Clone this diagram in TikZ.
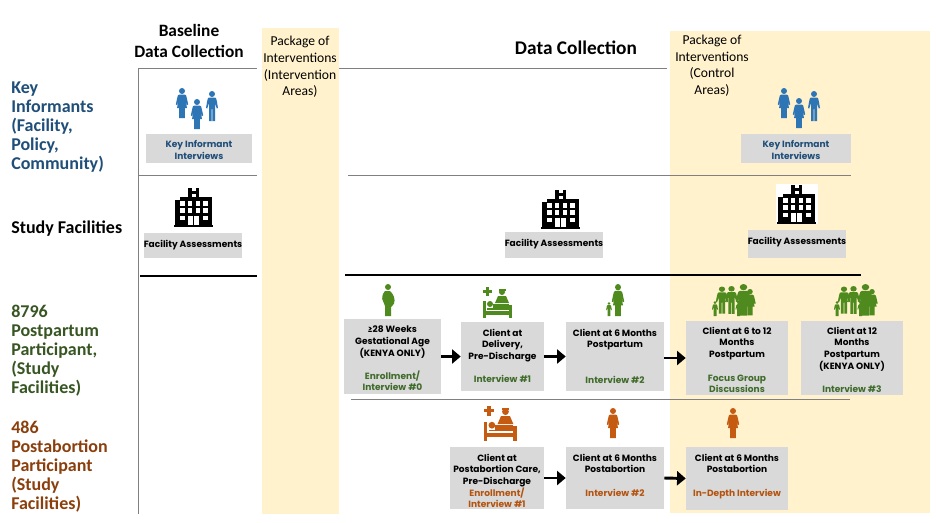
\documentclass[tikz,border=0pt]{standalone}
\usepackage{fontspec}
\usetikzlibrary{arrows.meta}
\setmainfont{Carlito}
\newfontfamily\boxfont{Poppins}
\definecolor{pkg}{HTML}{FFF2CC}
\definecolor{boxgray}{HTML}{D9D9D9}
\definecolor{kiblue}{HTML}{2E75B6}
\definecolor{kitext}{HTML}{1F4E79}
\definecolor{lblgreen}{HTML}{375623}
\definecolor{icgreen}{HTML}{4E8A1E}
\definecolor{txgreen}{HTML}{3F6B2A}
\definecolor{icorange}{HTML}{C55A11}
\definecolor{txorange}{HTML}{B4530F}
\definecolor{lblorange}{HTML}{8A3F0C}
\tikzset{
  x=0.75pt,y=-0.75pt,
  band/.style={fill=pkg,draw=none},
  cardbox/.style={fill=boxgray,draw=none,inner sep=0pt},
  cardtext/.style={anchor=north,inner sep=0pt,align=center,text=black,
    font=\boxfont\fontsize{6.8}{8.8}\selectfont\bfseries},
  rowlabel/.style={anchor=north west,align=left,inner sep=0pt,
    font=\fontsize{13.5}{14.25}\selectfont\bfseries},
  head/.style={align=center,inner sep=0pt,font=\fontsize{13}{15.6}\selectfont\bfseries},
  pkgtext/.style={align=center,inner sep=0pt,font=\fontsize{10.2}{12.4}\selectfont},
  thin rule/.style={draw=black!50,line width=0.6pt},
  thick rule/.style={draw=black,line width=2.2pt},
  flow/.style={draw=black,line width=2.2pt,-{Triangle[length=6.5pt,width=10.5pt]}},
  woman/.pic={
    \fill (0,3) circle (3);
    \fill (-2.8,6.5) -- (2.8,6.5) .. controls (4,6.5) and (4.5,8) .. (4.8,10) -- (6.2,16.5) -- (5,17)
      -- (3.4,12) -- (5,20) -- (2.9,20) -- (2.9,30) -- (-2.9,30) -- (-2.9,20) -- (-5,20) -- (-3.4,12)
      -- (-5,17) -- (-6.2,16.5) -- (-4.8,10) .. controls (-4.5,8) and (-4,6.5) .. (-2.8,6.5) -- cycle;
  },
  man/.pic={
    \fill (0,3) circle (3);
    \fill (-3,6.5) -- (3,6.5) .. controls (4,6.5) and (4.5,8) .. (4.8,10) -- (6,17) -- (4.8,17.5) -- (3,12)
      -- (3,30) -- (0.4,30) -- (0.4,18) -- (-0.4,18) -- (-0.4,30) -- (-3,30) -- (-3,12) -- (-4.8,17.5)
      -- (-6,17) -- (-4.8,10) .. controls (-4.5,8) and (-4,6.5) .. (-3,6.5) -- cycle;
  },
  pregnant/.pic={
    \fill (0,3) circle (3);
    \fill (-3,7) -- (2,7) .. controls (6,10.5) and (7.5,15.5) .. (6,19.5)
      .. controls (5,21.5) and (3.5,22.5) .. (3,23) -- (3,32) -- (-3,32) -- (-3,22)
      -- (-5.8,15) .. controls (-5.8,11) and (-4.5,8) .. (-3,7) -- cycle;
  },
  bedicon/.pic={
    \fill (3,0) rectangle (5.8,8.5);
    \fill (0.2,2.9) rectangle (8.6,5.6);
    \fill (19,5) circle (3);
    \fill (15.5,2) rectangle (22.5,3.5);
    \fill (15,9) -- (23,9) -- (26,16) -- (12,16) -- cycle;
    \fill (0,14) rectangle (2.7,31);
    \fill (26,18) rectangle (29,31);
    \fill (0,24) rectangle (29,27.5);
    \fill (7,17) circle (3);
    \fill (10,17) rectangle (26,22.5);
    \fill (4,21) rectangle (26,22.5);
  },
  familyicon/.pic={
    \pic[scale=.9,xscale=1.15] at (-11.5,2.5) {man};
    \pic[scale=.93,xscale=1.15] at (-2,2) {man};
    \pic[scale=1.05,xscale=1.2] at (10,0) {woman};
    \pic[scale=.88,xscale=1.05] at (16.5,5) {woman};
    \pic[scale=.5] at (-18.5,17) {man};
    \pic[scale=.5] at (5,17) {man};
  },
  hospital/.pic={
    \fill[black] (0,9) rectangle (37,37);
    \fill[black] (-1,37) rectangle (38,38.5);
    \fill[black] (13,0) rectangle (16.5,9);
    \fill[black] (20.5,0) rectangle (24,9);
    \fill[black] (13,3) rectangle (24,5.5);
    \fill[white] (0,9) rectangle (5,11.5);
    \foreach \cx in {5,12.5,20.5,28}{
      \foreach \cy in {13,20}{\fill[white] (\cx,\cy) rectangle ++(4.5,4.5);}
    }
    \fill[white] (5,27.5) rectangle ++(4.5,4.5);
    \fill[white] (28,27.5) rectangle ++(4.5,4.5);
    \fill[white] (13,27.5) rectangle (18,37);
    \fill[white] (19.2,27.5) rectangle (24,37);
  },
}
\newcommand{\sub}[2]{\textcolor{#1}{#2}}
% name, x1, y1, x2, y2, y of the text top, text
\newcommand{\card}[7]{%
  \node[cardbox,minimum width={(#4-#2)*0.75pt},minimum height={(#5-#3)*0.75pt}] (#1) at ({(#2+#4)/2},{(#3+#5)/2}) {};
  \node[cardtext] (#1t) at ({(#2+#4)/2},#6) {#7};}
\begin{document}
\begin{tikzpicture}
\useasboundingbox (0,0) rectangle (936,522);
\fill[white] (0,0) rectangle (936,522);
% bands
\path[band] (262,28) rectangle (339,514);
\path[band] (670,31) rectangle (930,513);
% rules
\coordinate (vt) at (138,68); \coordinate (vb) at (138,514);
\draw[thin rule] (vt) -- (vb);
\coordinate (r1a) at (257,68); \draw[thin rule] (vt) -- (r1a);
\coordinate (r1b) at (339,68); \coordinate (r1c) at (667,68); \draw[thin rule] (r1b) -- (r1c);
\coordinate (r2a) at (138,175); \coordinate (r2b) at (257,175); \draw[thin rule] (r2a) -- (r2b);
\coordinate (r2c) at (348,175); \coordinate (r2d) at (851,175); \draw[thin rule] (r2c) -- (r2d);
\coordinate (r3a) at (140,276); \coordinate (r3b) at (257,276); \draw[thick rule] (r3a) -- (r3b);
\coordinate (r3c) at (345,275); \coordinate (r3d) at (861,275); \draw[thick rule] (r3c) -- (r3d);
\coordinate (r4a) at (351,399); \coordinate (r4b) at (850,399); \draw[thin rule] (r4a) -- (r4b);
% headings
\node[head] (hbase) at (189,41) {Baseline\\Data Collection};
\node[head,font=\fontsize{14.5}{16}\selectfont\bfseries] (hdata) at (576,48) {Data Collection};
\node[pkgtext] (pk1) at (300,67) {Package of\\Interventions\\(Intervention\\Areas)};
\node[pkgtext] (pk2) at (712,65.5) {Package of\\Interventions\\(Control\\Areas)};
% row labels
\node[rowlabel,text=kitext] (lk) at (11,81.5) {Key\\Informants\\(Facility,\\Policy,\\Community)};
\node[rowlabel,text=black] (lf) at (11,220.5) {Study Facilities};
\node[rowlabel,text=lblgreen] (lg) at (11,304.5) {8796\\Postpartum\\Participant,\\(Study\\Facilities)};
\node[rowlabel,text=lblorange] (lo) at (11,420.5) {486\\Postabortion\\Participant\\(Study\\Facilities)};
% cards
\card{ki1}{146}{134}{252}{163}{140.5}{\sub{kitext}{Key Informant}\\\sub{kitext}{Interviews}}
\card{ki2}{741}{134}{851}{163}{140.5}{\sub{kitext}{Key Informant}\\\sub{kitext}{Interviews}}
\card{fa1}{144}{233}{242}{258}{239.5}{Facility Assessments}
\card{fa2}{505}{232}{603}{258}{238.5}{Facility Assessments}
\card{fa3}{748}{230}{846}{258}{236.5}{Facility Assessments}
\card{g0}{344}{319}{441}{394}{325.5}{≥28 Weeks\\Gestational Age\\(KENYA ONLY)\\[8.5pt]\sub{txgreen}{Enrollment/}\\\sub{txgreen}{Interview \#0}}
\card{g1}{461}{322}{544}{391}{328.7}{Client at\\Delivery,\\Pre-Discharge\\[8.5pt]\sub{txgreen}{Interview \#1}}
\card{g2}{566}{322}{664}{391}{328.7}{Client at 6 Months\\Postpartum\\[17.5pt]\sub{txgreen}{Interview \#2}}
\card{g3}{686}{321}{788}{395}{326.5}{Client at 6 to 12\\Months\\Postpartum\\[9pt]\sub{txgreen}{Focus Group}\\\sub{txgreen}{Discussions}}
\card{g4}{801}{321}{903}{395}{326.5}{Client at 12\\Months\\Postpartum\\(KENYA ONLY)\\[8.5pt]\sub{txgreen}{Interview \#3}}
\card{o1}{450}{447}{544}{509}{453.5}{Client at\\Postabortion Care,\\Pre-Discharge\\\sub{txorange}{Enrollment/}\\\sub{txorange}{Interview \#1}}
\card{o2}{566}{447}{664}{509}{453.5}{Client at 6 Months\\Postabortion\\[9pt]\sub{txorange}{Interview \#2}}
\card{o3}{686}{447}{788}{510}{453.5}{Client at 6 Months\\Postabortion\\[9pt]\sub{txorange}{In-Depth Interview}}
% arrows
\draw[flow] (g0.east) -- (g1.west);
\draw[flow] (g1.east) -- (g2.west);
\draw[flow] (g2.east |- g3.west) -- (g3.west);
\draw[flow] (o1.east) -- (o2.west);
\draw[flow] (o2.east) -- (o3.west);
% icons
\begin{scope}[fill=kiblue]
\pic at (182,88) {woman};
\pic at (197,99) {woman};
\pic at (212,91) {man};
\pic at (784,88) {woman};
\pic at (799,98) {woman};
\pic at (814,91) {man};
\end{scope}
\pic at (175,188) {hospital};
\pic at (542,190) {hospital};
\fill[white] (776,184) rectangle (818,224);
\pic at (778,185) {hospital};
\begin{scope}[fill=icgreen]
\pic at (388,284) {pregnant};
\pic at (483,287) {bedicon};
\pic[yscale=1.07] at (618,284) {woman};
\pic[scale=.47] at (609,302) {man};
\pic at (733.5,284) {familyicon};
\pic at (855.5,284) {familyicon};
\end{scope}
\begin{scope}[fill=icorange]
\pic[scale=1.13] at (484,406) {bedicon};
\pic at (613,408) {woman};
\pic at (733,408) {woman};
\end{scope}
\end{tikzpicture}
\end{document}
